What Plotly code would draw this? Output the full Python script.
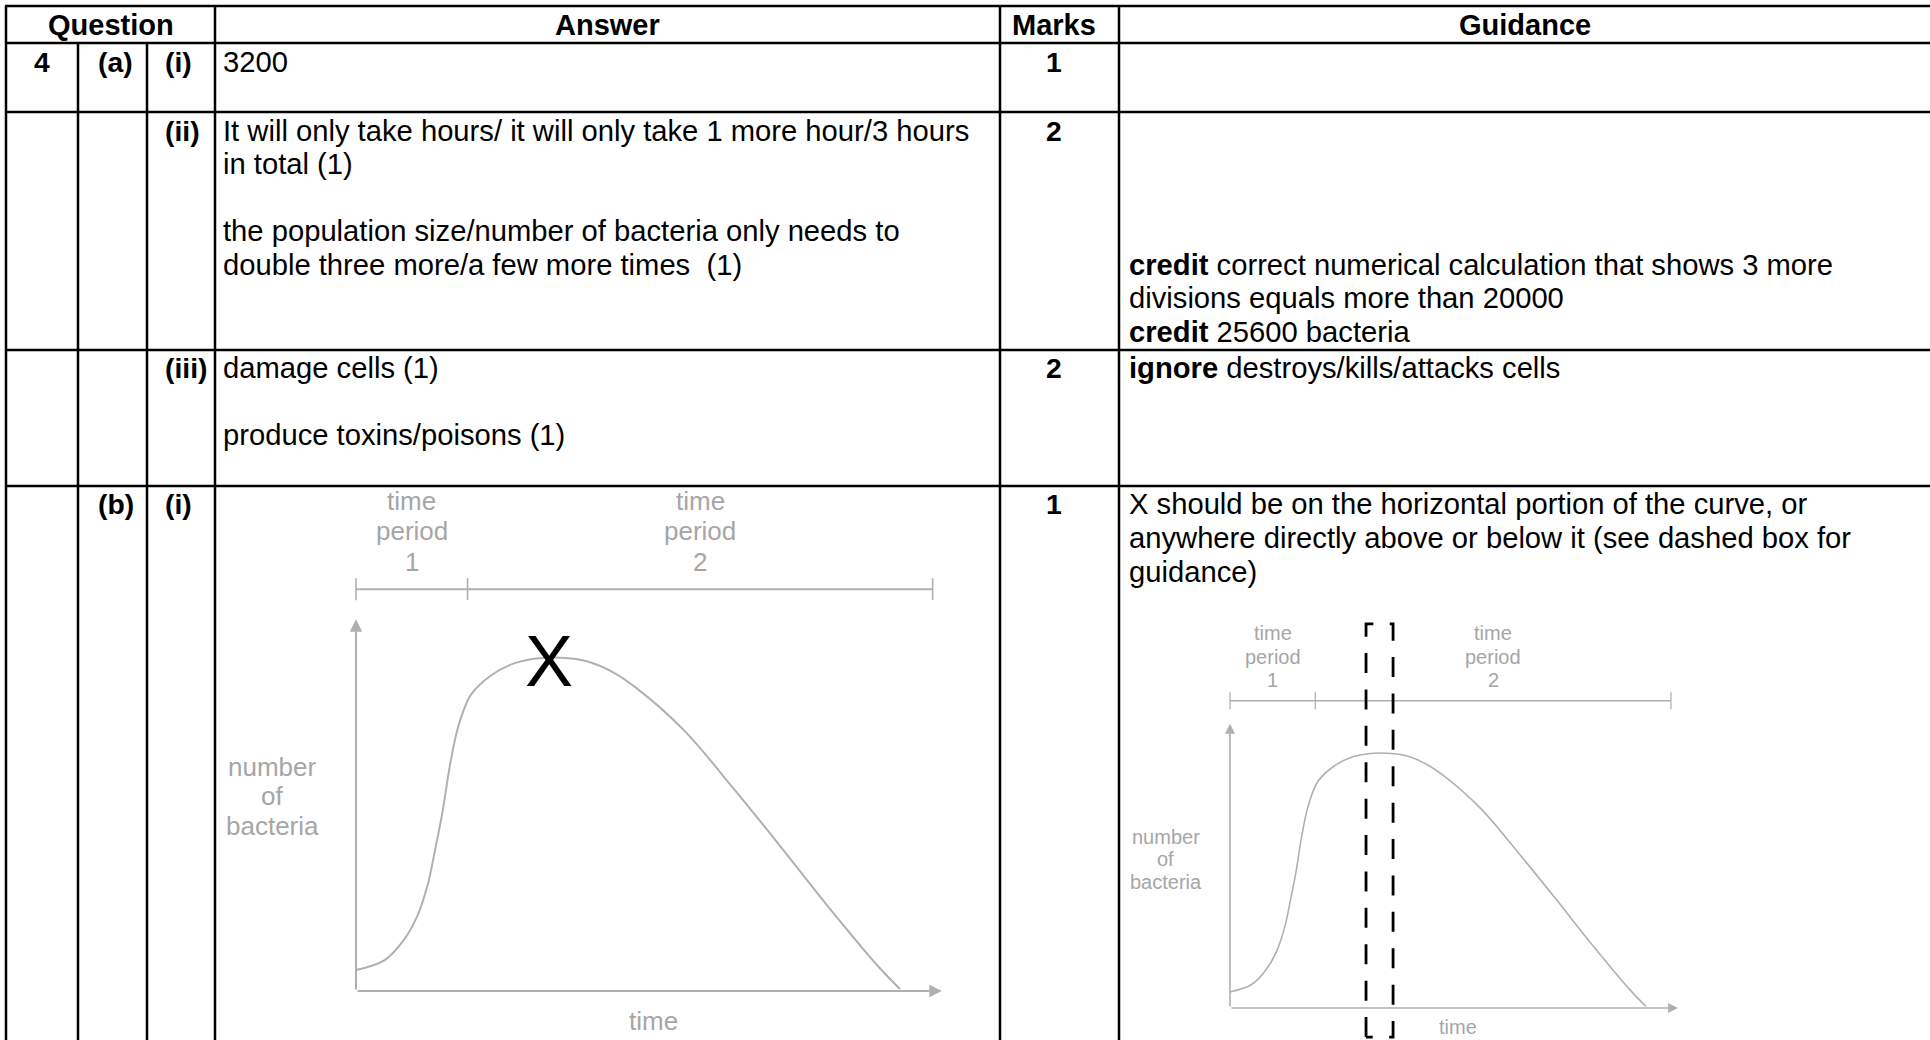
import plotly.graph_objects as go

W, H = 1930, 1040

# ---------------- table content ----------------
header_labels = ["Question", "Answer", "Marks", "Guidance"]
question_number = ["4"]
part_labels = ["(a)", "(b)"]
subpart_labels = ["(i)", "(ii)", "(iii)", "(i)"]
marks_values = ["1", "2", "2", "1"]

answer_lines = [
    [(0, "3200")],
    [(0, "It will only take hours/ it will only take 1 more hour/3 hours"),
     (1, "in total (1)"),
     (3, "the population size/number of bacteria only needs to"),
     (4, "double three more/a few more times \u00a0(1)")],
    [(0, "damage cells (1)"),
     (2, "produce toxins/poisons (1)")],
    [],
]
guidance_lines = [
    [],
    [(4, "<b>credit</b> correct numerical calculation that shows 3 more"),
     (5, "divisions equals more than 20000"),
     (6, "<b>credit</b> 25600 bacteria")],
    [(0, "<b>ignore</b> destroys/kills/attacks cells")],
    [(0, "X should be on the horizontal portion of the curve, or"),
     (1, "anywhere directly above or below it (see dashed box for"),
     (2, "guidance)")],
]

# ---------------- diagram data (arbitrary units) ----------------
curve_time = [0, 0.52, 0.87, 1.13, 1.32, 1.45, 1.59, 1.72, 1.85, 1.99, 2.12, 2.48, 2.92,
              3.37, 3.9, 4.26, 4.71, 5.15, 6.04, 6.93, 7.83, 8.72, 9.61, 10.0]
curve_number = [0.63, 0.92, 1.51, 2.26, 3.2, 4.2, 5.37, 6.7, 7.75, 8.47, 8.9, 9.46, 9.83,
                9.98, 9.98, 9.88, 9.57, 9.09, 7.8, 6.09, 4.28, 2.45, 0.72, 0.06]
period_edges = [0, 2.05, 10.6]
period_names = [["time", "period", "1"], ["time", "period", "2"]]
bracket_level = 12.05
axis_time_end = 10.77
axis_number_end = 11.15
mark_point = (3.55, 9.9)          # the candidate's X
plateau = (3.27, 3.92)            # dashed guidance box
y_label_lines = ["number", "of", "bacteria"]
x_label = "time"

# ---------------- layout geometry ----------------
row_tops = [6, 43, 112, 350, 486]
col_x = [6, 78, 147, 215, 1000, 1119]
LINE_W = 2.5
FONT = "Liberation Sans, Arial, sans-serif"
FS = 29.2
PITCH = 33.5
PAD_TOP = 18.5

def px(x):
    return x / W

def py(y):
    return 1 - y / H

fig = go.Figure()
shapes = []
ann = []

# table lines
for y in row_tops:
    shapes.append(dict(type="line", xref="paper", yref="paper",
                       x0=px(col_x[0] - 1), x1=px(W + 5), y0=py(y), y1=py(y),
                       line=dict(color="black", width=LINE_W)))
for x in [col_x[0], col_x[3], col_x[4], col_x[5]]:
    shapes.append(dict(type="line", xref="paper", yref="paper",
                       x0=px(x), x1=px(x), y0=py(row_tops[0]), y1=py(H + 5),
                       line=dict(color="black", width=LINE_W)))
for x in [col_x[1], col_x[2]]:
    shapes.append(dict(type="line", xref="paper", yref="paper",
                       x0=px(x), x1=px(x), y0=py(row_tops[1]), y1=py(H + 5),
                       line=dict(color="black", width=LINE_W)))

def text(x, y, s, anchor="left", bold=False, size=FS, color="black"):
    ann.append(dict(xref="paper", yref="paper", x=px(x), y=py(y),
                    text=("<b>%s</b>" % s) if bold else s, showarrow=False,
                    xanchor=anchor, yanchor="middle",
                    font=dict(family=FONT, size=size, color=color)))

# header
hy = (row_tops[0] + row_tops[1]) / 2 + 0.5
header_cx = [(col_x[0] + col_x[3]) / 2, (col_x[3] + col_x[4]) / 2, 1054, (col_x[5] + W) / 2]
for lab, cx in zip(header_labels, header_cx):
    text(cx, hy, lab, anchor="center", bold=True, size=29)

body_rows = row_tops[1:]
QS = 28.3
text((col_x[0] + col_x[1]) / 2, body_rows[0] + PAD_TOP, question_number[0], anchor="center", bold=True, size=QS)
text(col_x[1] + 18, body_rows[0] + PAD_TOP, part_labels[0], bold=True, size=QS)
text(col_x[1] + 18, body_rows[3] + PAD_TOP, part_labels[1], bold=True, size=QS)
for r, lab in enumerate(subpart_labels):
    text(col_x[2] + 16, body_rows[r] + PAD_TOP, lab, bold=True, size=QS)
    text(1054, body_rows[r] + PAD_TOP, marks_values[r], anchor="center", bold=True, size=QS)
for r, lines in enumerate(answer_lines):
    for i, s in lines:
        text(col_x[3] + 6, body_rows[r] + PAD_TOP + i * PITCH, s)
for r, lines in enumerate(guidance_lines):
    for i, s in lines:
        text(col_x[5] + 8, body_rows[r] + PAD_TOP + i * PITCH, s)

# ---------------- diagrams ----------------
GRAY_LINE = "#b0b0b0"
GRAY_TEXT = "#a6a6a6"

diagrams = [
    dict(ax="2", cx0=col_x[3], cx1=col_x[4], ox=356, oy=991, sx=54.4, sy=33.35, fs=26, lw=2.0, aw=2.0, xl=-0.9),
    dict(ax="3", cx0=col_x[5], cx1=W, ox=1230, oy=1008, sx=41.6, sy=25.5, fs=20, lw=1.6, aw=1.6, xl=-0.74),
]
layout_axes = {}
for d in diagrams:
    a = d["ax"]
    xr = [(d["cx0"] - d["ox"]) / d["sx"], (d["cx1"] - d["ox"]) / d["sx"]]
    yr = [(d["oy"] - H) / d["sy"], (d["oy"] - row_tops[4]) / d["sy"]]
    layout_axes["xaxis" + a] = dict(domain=[px(d["cx0"]), px(d["cx1"])], range=xr,
                                   visible=False, fixedrange=True, anchor="y" + a)
    layout_axes["yaxis" + a] = dict(domain=[0, py(row_tops[4])], range=yr,
                                   visible=False, fixedrange=True, anchor="x" + a)
    xref, yref = "x" + a, "y" + a
    fig.add_trace(go.Scatter(x=curve_time, y=curve_number, xaxis=xref, yaxis=yref,
                             mode="lines", line=dict(color=GRAY_LINE, width=d["lw"], shape="spline", smoothing=1.0),
                             hoverinfo="skip", showlegend=False))
    for (hx, hy_), (tx, ty) in [((axis_time_end, 0), (0, 0)), ((0, axis_number_end), (0, 0))]:
        ann.append(dict(xref=xref, yref=yref, axref=xref, ayref=yref, x=hx, y=hy_, ax=tx, ay=ty,
                        text="", showarrow=True, arrowhead=2, arrowsize=1.25, arrowwidth=d["aw"],
                        arrowcolor=GRAY_LINE, standoff=0, startstandoff=0))
    shapes.append(dict(type="line", xref=xref, yref=yref, x0=period_edges[0], x1=period_edges[-1],
                       y0=bracket_level, y1=bracket_level, line=dict(color=GRAY_LINE, width=d["lw"])))
    for e in period_edges:
        shapes.append(dict(type="line", xref=xref, yref=yref, x0=e, x1=e,
                           y0=bracket_level - 0.33, y1=bracket_level + 0.33,
                           line=dict(color=GRAY_LINE, width=d["lw"] * 0.8)))
    lp = 0.92
    for k, names in enumerate(period_names):
        cx = (period_edges[k] + period_edges[k + 1]) / 2
        for j, s in enumerate(names):
            ann.append(dict(xref=xref, yref=yref, x=cx, y=14.7 - j * lp, text=s, showarrow=False,
                            xanchor="center", yanchor="middle",
                            font=dict(family=FONT, size=d["fs"], color=GRAY_TEXT)))
    for j, s in enumerate(y_label_lines):
        ann.append(dict(xref=xref, yref=yref, x=-1.54, y=6.72 - j * 0.88, text=s, showarrow=False,
                        xanchor="center", yanchor="middle",
                        font=dict(family=FONT, size=d["fs"], color=GRAY_TEXT)))
    ann.append(dict(xref=xref, yref=yref, x=5.47, y=d["xl"], text=x_label, showarrow=False,
                    xanchor="center", yanchor="middle",
                    font=dict(family=FONT, size=d["fs"], color=GRAY_TEXT)))

# candidate's mark on the big diagram
ann.append(dict(xref="x2", yref="y2", x=mark_point[0], y=mark_point[1], text="X", showarrow=False,
                xanchor="center", yanchor="middle", font=dict(family=FONT, size=72, color="black")))

# dashed guidance box on the small diagram
box_bottom, box_top = -1.14, 15.06
shapes.append(dict(type="path", xref="x3", yref="y3",
                   path="M %g,%g V %g H %g V %g H %g" % (plateau[0], box_bottom, box_top,
                                                        plateau[1], box_bottom, plateau[0]),
                   line=dict(color="black", width=2.8, dash="20px,16.4px")))

fig.update_layout(
    width=W, height=H, autosize=False,
    margin=dict(l=0, r=0, t=0, b=0),
    paper_bgcolor="white", plot_bgcolor="rgba(0,0,0,0)",
    xaxis=dict(visible=False, range=[0, 1], domain=[0, 1], fixedrange=True),
    yaxis=dict(visible=False, range=[0, 1], domain=[0, 1], fixedrange=True),
    shapes=shapes, annotations=ann, showlegend=False,
    **layout_axes,
)

fig.write_html("out.html", config={"displayModeBar": False, "staticPlot": True},
               post_script="document.body.style.margin='0';document.body.style.overflow='hidden';")
